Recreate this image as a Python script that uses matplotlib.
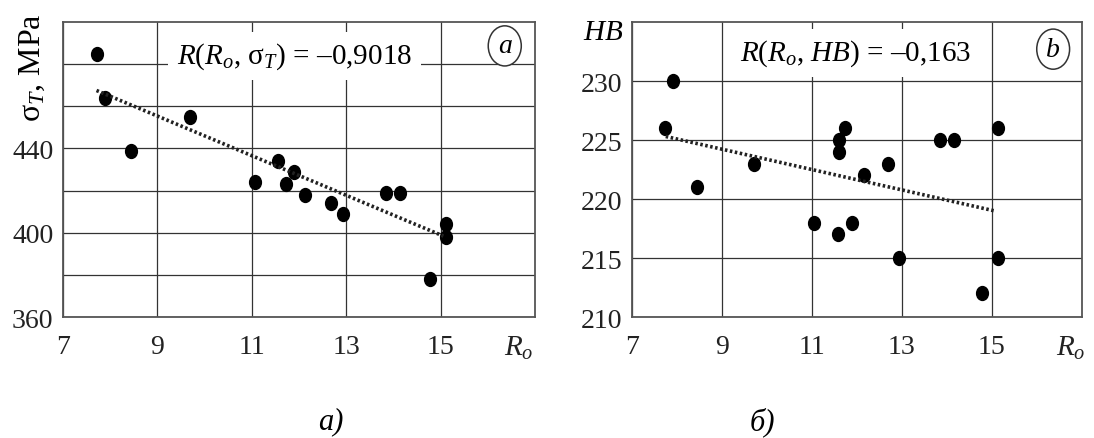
import matplotlib
matplotlib.use('Agg')
import matplotlib.pyplot as plt
from matplotlib.path import Path
from matplotlib.patches import Ellipse
from matplotlib.transforms import Affine2D

plt.rcParams['font.family'] = ['Liberation Serif', 'DejaVu Serif']
plt.rcParams['mathtext.fontset'] = 'custom'
plt.rcParams['mathtext.rm'] = 'Liberation Serif'
plt.rcParams['mathtext.it'] = 'Liberation Serif:italic'

# panel a: yield strength vs Ro
ro_a = [7.71, 7.90, 8.45, 9.69, 11.06, 11.56, 11.72, 11.89, 12.13, 12.68,
        12.94, 13.84, 14.14, 14.77, 15.12, 15.12]
sigma_t = [485, 464, 439, 455, 424, 434, 423, 429, 418, 414,
           409, 419, 419, 378, 404, 398]
trend_x_a = [7.71, 15.06]
trend_y_a = [467.5, 398.4]

# panel b: hardness vs Ro
ro_b = [7.73, 7.90, 8.45, 9.71, 11.05, 11.57, 11.59, 11.59, 11.73, 11.88,
        12.15, 12.69, 12.94, 13.85, 14.16, 14.77, 15.13, 15.13]
hb = [226, 230, 221, 223, 218, 217, 224, 225, 226, 218,
      222, 223, 215, 225, 225, 212, 226, 215]
trend_x_b = [7.75, 15.05]
trend_y_b = [225.3, 219.0]

x_ticks = [7, 9, 11, 13, 15]
y_ticks_a = [360, 380, 400, 420, 440, 460, 480]
y_labels_a = ['360', '', '400', '', '440', '', '']
y_ticks_b = [210, 215, 220, 225, 230]

# slightly tall dot, like in the scanned picture
dot = Path.unit_circle().transformed(Affine2D().scale(0.85, 1.0))

fig = plt.figure(figsize=(10.94, 4.39), dpi=100)
ax_a = fig.add_axes([0.0576, 0.2756, 0.4314, 0.672])
ax_b = fig.add_axes([0.5777, 0.2756, 0.4113, 0.672])


def style_axes(ax, ylim, yticks, ylabels):
    ax.set_xlim(7, 17)
    ax.set_ylim(*ylim)
    ax.set_xticks(x_ticks)
    ax.set_yticks(yticks)
    ax.set_yticklabels(ylabels)
    ax.set_axisbelow(True)
    ax.grid(True, color='#333333', linewidth=0.9)
    ax.tick_params(axis='both', length=0, labelsize=20, colors='#222222')
    ax.tick_params(axis='x', pad=12)
    ax.tick_params(axis='y', pad=7)
    for s in ax.spines.values():
        s.set_color('#555555')
        s.set_linewidth(1.3)


style_axes(ax_a, (360, 500), y_ticks_a, y_labels_a)
style_axes(ax_b, (210, 235), y_ticks_b, [str(v) for v in y_ticks_b])

# points and trend lines
ax_a.plot(ro_a, sigma_t, linestyle='none', marker=dot, ms=10, color='black', zorder=2)
ax_a.plot(trend_x_a, trend_y_a, color='#222222', lw=2.6, linestyle=(0, (0.7, 0.7)), zorder=2)
ax_b.plot(ro_b, hb, linestyle='none', marker=dot, ms=10, color='black', zorder=2)
ax_b.plot(trend_x_b, trend_y_b, color='#222222', lw=2.6, linestyle=(0, (0.7, 0.7)), zorder=2)

# correlation labels
box = dict(boxstyle='square,pad=0.3', fc='white', ec='none')
ax_a.text(0.49, 0.885, r'$R$($R_o$, σ$_T$) = –0,9018', transform=ax_a.transAxes,
          ha='center', va='center', fontsize=21, bbox=box, zorder=3)
ax_b.text(0.496, 0.895, r'$R$($R_o$, $HB$) = –0,163', transform=ax_b.transAxes,
          ha='center', va='center', fontsize=21, bbox=box, zorder=3)

# circled panel letters
for ax, letter, w, yc in [(ax_a, 'a', 0.070, 0.919), (ax_b, 'b', 0.073, 0.908)]:
    ax.add_patch(Ellipse((0.936, yc), w, 0.136, transform=ax.transAxes,
                         fc='white', ec='#333333', lw=1.1, zorder=3))
    ax.text(0.936, yc, letter, transform=ax.transAxes, ha='center', va='center',
            fontsize=20, style='italic', zorder=4)

# axis names
ax_a.text(-0.066, 0.85, 'σ$_T$, MPa', transform=ax_a.transAxes, rotation=90,
          ha='center', va='center', fontsize=23)
ax_b.text(-0.064, 0.966, r'$HB$', transform=ax_b.transAxes,
          ha='center', va='center', fontsize=21)
for ax, xpos in [(ax_a, 16.65), (ax_b, 16.75)]:
    ax.annotate(r'$R_o$', xy=(xpos, 0), xycoords=('data', 'axes fraction'),
                xytext=(0, -12), textcoords='offset points', ha='center', va='top',
                fontsize=21, color='#222222', annotation_clip=False)

# captions under panels
fig.text(0.302, 0.039, 'а)', style='italic', fontsize=22, ha='center', va='center')
fig.text(0.697, 0.039, 'б)', style='italic', fontsize=22, ha='center', va='center')

fig.savefig('out.png', dpi=100)
